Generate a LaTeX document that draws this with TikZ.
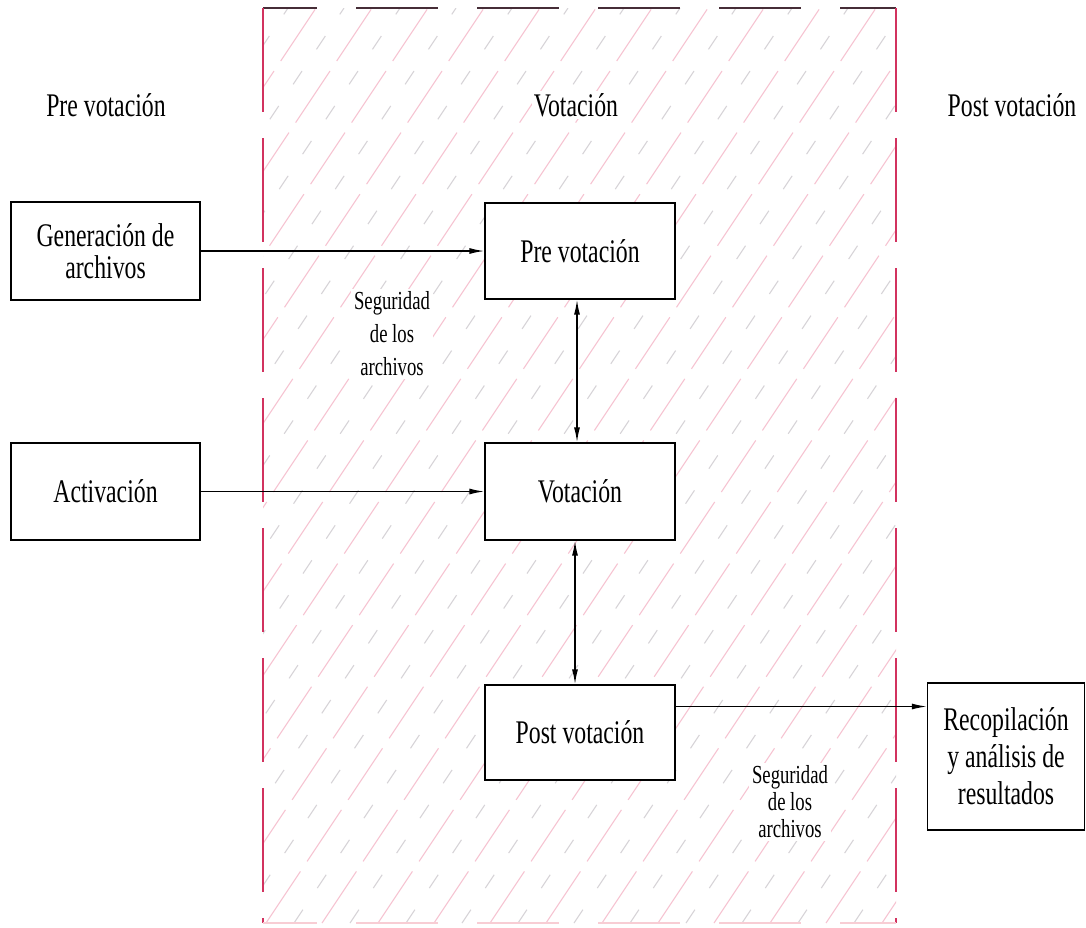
\documentclass[tikz,border=0pt]{standalone}
\usepackage{fontspec}
\setmainfont[FakeStretch=0.72]{Liberation Serif}
\usetikzlibrary{arrows.meta}

\definecolor{frameRed}{RGB}{210,50,95}
\definecolor{frameTop}{RGB}{70,45,55}
\definecolor{frameLow}{RGB}{248,205,212}
\definecolor{hatchPink}{RGB}{246,196,210}
\definecolor{hatchGray}{RGB}{215,212,216}

\begin{document}
\begin{tikzpicture}[x=1pt,y=-1pt,
  box/.style={draw, line width=1.3pt, fill=white, align=center,
    font=\fontsize{33}{32}\selectfont, inner sep=0pt},
  lbl/.style={align=center, font=\fontsize{33}{32}\selectfont, inner sep=2pt},
  note/.style={align=center, font=\fontsize{26}{33}\selectfont,
    fill=white, inner sep=3pt},
  conn/.style={line width=1.4pt, -{Latex[length=15pt,width=6pt]}},
  dconn/.style={line width=1.4pt, {Latex[length=15pt,width=6pt]}-{Latex[length=15pt,width=6pt]}},
  pinkline/.style={draw=hatchPink, line width=1.1pt, dash pattern=on 62pt off 12pt},
  grayline/.style={draw=hatchGray, line width=1.1pt, dash pattern=on 16pt off 26pt},
]
\useasboundingbox (0,0) rectangle (1086,927);

% voting zone: diagonal hatching
\begin{scope}
  \clip (263,8) rectangle (896,923);
  \foreach \i in {0,...,23} {
    \draw[pinkline] (-350+\i*56,923) -- ++(610,-915);
    \draw[grayline] (-322+\i*56,923) -- ++(610,-915);
  }
\end{scope}

% voting zone: dashed frame
\coordinate (zTL) at (263,8);
\coordinate (zTR) at (896,8);
\coordinate (zBL) at (263,923);
\coordinate (zBR) at (896,923);
\draw[frameTop, line width=1.6pt, dash pattern=on 82pt off 39pt, dash phase=28pt] (zTL) -- (zTR);
\draw[frameRed, line width=1.6pt, dash pattern=on 104pt off 26pt] (zTL) -- (zBL);
\draw[frameRed, line width=1.6pt, dash pattern=on 104pt off 26pt] (zTR) -- (zBR);
\draw[frameLow, line width=1.6pt, dash pattern=on 82pt off 39pt, dash phase=28pt] (zBL) -- (zBR);

% phase headings
\node[lbl] (hPre) at (106,105) {Pre votación};
\node[lbl, fill=white] (hVot) at (576,105) {Votación};
\node[lbl] (hPost) at (1012,105) {Post votación};

% boxes
\node[box, minimum width=189pt, minimum height=98pt] (gen) at (105.5,251) {Generación de\\archivos};
\node[box, minimum width=189pt, minimum height=97pt] (act) at (105.5,491.5) {Activación};
\node[box, minimum width=190pt, minimum height=96pt] (pre) at (580,251) {Pre votación};
\node[box, minimum width=190pt, minimum height=97pt] (vot) at (580,491.5) {Votación};
\node[box, minimum width=190pt, minimum height=95pt] (post) at (580,732.5) {Post votación};
\node[box, minimum width=157pt, minimum height=147pt,
  font=\fontsize{33}{37}\selectfont] (rec) at (1006,756.5) {Recopilación\\y análisis de\\resultados};

% notes
\node[note] (seg1) at (392,334) {Seguridad\\de los\\archivos};
\node[note, font=\fontsize{26}{27}\selectfont] (seg2) at (790,802) {Seguridad\\de los\\archivos};

% connectors
\draw[conn] (gen.east) -- (pre.west);
\draw[conn] (act.east) -- (vot.west);
\draw[dconn] ([xshift=-3pt]pre.south) -- ([xshift=-3pt]vot.north);
\draw[dconn] ([xshift=-5pt]vot.south) -- ([xshift=-5pt]post.north);
\draw[conn] ([yshift=26pt]post.east) -- ([yshift=26pt]post.east -| rec.west);
\end{tikzpicture}
\end{document}
